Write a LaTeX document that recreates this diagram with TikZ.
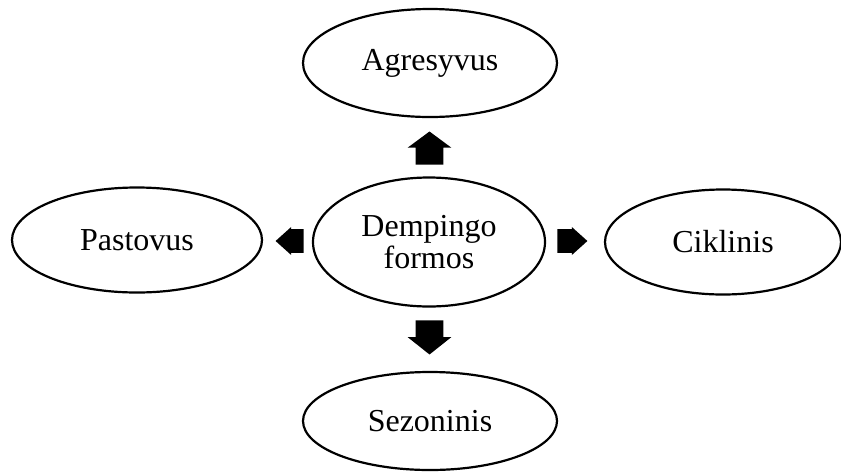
\documentclass[tikz,border=0pt]{standalone}
\usepackage{fontspec}
\setmainfont{Liberation Serif}
\usetikzlibrary{shapes.geometric, shapes.arrows, positioning}
\tikzstyle{forma} = [ellipse, draw=black, line width=1.1pt, inner sep=0pt, align=center, font=\fontsize{16}{12.5}\selectfont]
\tikzstyle{blokasV} = [single arrow, fill=black, inner sep=0pt, text width=0pt, text height=6.75pt, text depth=6.75pt, single arrow head extend=4pt, single arrow head indent=0pt]
\tikzstyle{blokasH} = [single arrow, fill=black, inner sep=0pt, text width=0pt, text height=5.75pt, text depth=5.75pt, single arrow head extend=1pt, single arrow head indent=0pt]

\begin{document}
\begin{tikzpicture}[x=0.5pt, y=-0.5pt]
				\useasboundingbox (0,0) rectangle (841,472);
				
				% Ellipses
				\node (formos) [forma, minimum width=116pt, minimum height=64.5pt] at (429,242) {Dempingo\\formos};
				\node (agresyvus) [forma, minimum width=127pt, minimum height=54pt] at (430,63) {Agresyvus};
				\node (sezoninis) [forma, minimum width=127pt, minimum height=49pt] at (430,421) {Sezoninis};
				\node (pastovus) [forma, minimum width=125pt, minimum height=52.5pt] at (137,240) {Pastovus};
				\node (ciklinis) [forma, minimum width=118pt, minimum height=52.5pt] at (723,242) {Ciklinis};
				
				% Block arrows
				\node (rodAukstyn) [blokasV, minimum height=16.5pt, single arrow tip angle=107, rotate=90, anchor=tip] at (429.5,131) {};
				\node (rodZemyn) [blokasV, minimum height=17pt, single arrow tip angle=103, rotate=-90, anchor=tip] at (429.5,355) {};
				\node (rodKairen) [blokasH, minimum height=14pt, single arrow tip angle=84, rotate=180, anchor=tip] at (275,241) {};
				\node (rodDesinen) [blokasH, minimum height=15pt, single arrow tip angle=84, anchor=tip] at (588,241) {};
				
\end{tikzpicture}
\end{document}
